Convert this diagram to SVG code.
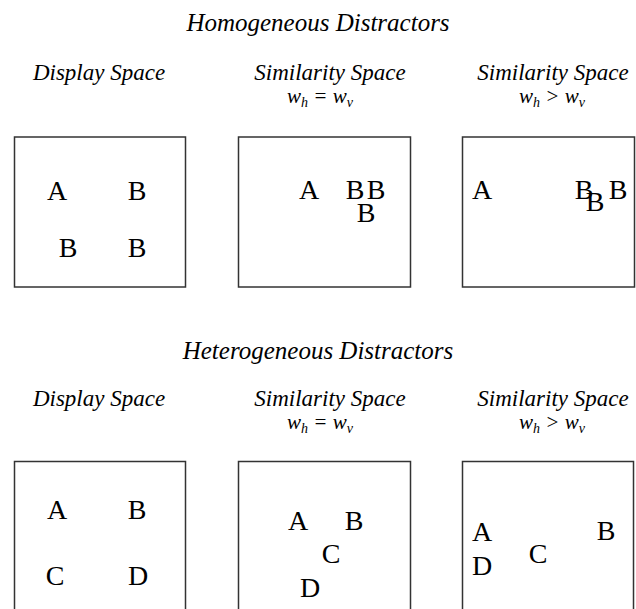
<svg xmlns="http://www.w3.org/2000/svg" width="636" height="609" viewBox="0 0 636 609">
<style>
.t{font-family:'Liberation Serif','Times New Roman',serif;font-style:italic;fill:#000;text-anchor:middle}
.title{font-size:25px}
.hd{font-size:23px}
.w{font-size:21px}
.sub{font-size:14px}
.box{fill:#fff;stroke:#333;stroke-width:1.5}
.l{font-family:'Liberation Serif','Times New Roman',serif;font-size:28px;fill:#000;text-anchor:middle}
</style>
<rect width="636" height="609" fill="#fff"/>
<g id="labels-top">
<text class="t title" x="318" y="31">Homogeneous Distractors</text>
<text class="t hd" x="99" y="80">Display Space</text>
<text class="t hd" x="330" y="80">Similarity Space</text>
<text class="t hd" x="553" y="80">Similarity Space</text>
<text class="t w" x="320" y="103">w<tspan class="sub" dy="4">h</tspan><tspan dy="-4"> = w</tspan><tspan class="sub" dy="4">v</tspan></text>
<text class="t w" x="552" y="103">w<tspan class="sub" dy="4">h</tspan><tspan dy="-4"> &gt; w</tspan><tspan class="sub" dy="4">v</tspan></text>
</g>
<g id="box-hom-display">
<rect class="box" x="14.5" y="137" width="171" height="150"/>
<text class="l" x="57" y="200">A</text>
<text class="l" x="137" y="200">B</text>
<text class="l" x="68" y="257">B</text>
<text class="l" x="137" y="257">B</text>
</g>
<g id="box-hom-sim-eq">
<rect class="box" x="238.5" y="137" width="172" height="150"/>
<text class="l" x="309" y="199">A</text>
<text class="l" x="355" y="199">B</text>
<text class="l" x="376" y="199">B</text>
<text class="l" x="366" y="222">B</text>
</g>
<g id="box-hom-sim-gt">
<rect class="box" x="462.5" y="137" width="172" height="150"/>
<text class="l" x="482" y="199">A</text>
<text class="l" x="584" y="199">B</text>
<text class="l" x="595" y="211">B</text>
<text class="l" x="618" y="199">B</text>
</g>
<g id="labels-bottom">
<text class="t title" x="318" y="359">Heterogeneous Distractors</text>
<text class="t hd" x="99" y="406">Display Space</text>
<text class="t hd" x="330" y="406">Similarity Space</text>
<text class="t hd" x="553" y="406">Similarity Space</text>
<text class="t w" x="320" y="429">w<tspan class="sub" dy="4">h</tspan><tspan dy="-4"> = w</tspan><tspan class="sub" dy="4">v</tspan></text>
<text class="t w" x="552" y="429">w<tspan class="sub" dy="4">h</tspan><tspan dy="-4"> &gt; w</tspan><tspan class="sub" dy="4">v</tspan></text>
</g>
<g id="box-het-display">
<rect class="box" x="14.5" y="461.5" width="171" height="160"/>
<text class="l" x="57" y="519">A</text>
<text class="l" x="137" y="519">B</text>
<text class="l" x="55" y="585">C</text>
<text class="l" x="138" y="585">D</text>
</g>
<g id="box-het-sim-eq">
<rect class="box" x="238.5" y="461.5" width="172" height="160"/>
<text class="l" x="298" y="530">A</text>
<text class="l" x="354" y="530">B</text>
<text class="l" x="331" y="563">C</text>
<text class="l" x="310" y="597">D</text>
</g>
<g id="box-het-sim-gt">
<rect class="box" x="462.5" y="461.5" width="171" height="160"/>
<text class="l" x="482" y="541">A</text>
<text class="l" x="606" y="540">B</text>
<text class="l" x="538" y="563">C</text>
<text class="l" x="482" y="575">D</text>
</g>
</svg>
